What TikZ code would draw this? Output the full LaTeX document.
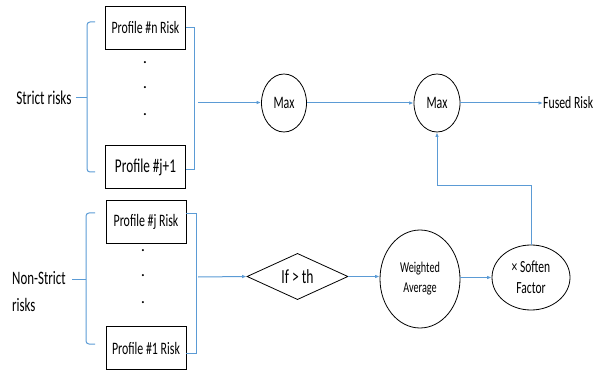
\documentclass[tikz,border=0pt]{standalone}
\usepackage{fontspec}
\usepackage{graphicx}
\setmainfont{Carlito}
\usetikzlibrary{shapes.geometric,arrows.meta,calc}
\definecolor{lblue}{RGB}{91,155,213}
\newcommand{\sqz}[2]{{\fontsize{#1}{#1}\selectfont\scalebox{0.68}[1]{#2}}}
\begin{document}
\begin{tikzpicture}[x=1pt,y=-1pt,
  box/.style={draw,line width=0.8pt,minimum width=80pt,minimum height=43pt,inner sep=0pt},
  ell/.style={draw,ellipse,line width=0.8pt,inner sep=0pt,align=center},
  conn/.style={draw=lblue,line width=1pt},
  arr/.style={conn,-{Latex[length=4.5pt,width=3.5pt]}},
  dotn/.style={inner sep=0pt,font=\fontsize{17}{17}\selectfont},
  lbl/.style={inner sep=0pt}]
\useasboundingbox (0,0) rectangle (596,371);
% boxes
\node[box] (p1) at (145.5,28) {\sqz{17.4}{Profile \#n Risk}};
\node[box] (p2) at (145.5,167) {\sqz{19.5}{Profile \#j+1}};
\node[box] (p3) at (146,221.5) {\sqz{17.5}{Profile \#j Risk}};
\node[box] (p4) at (146,348) {\sqz{17.5}{Profile \#1 Risk}};
% dots
\node[dotn] (d1) at (145,63) {.};
\node[dotn] (d2) at (145,88) {.};
\node[dotn] (d3) at (145,115) {.};
\node[dotn] (d4) at (143,251) {.};
\node[dotn] (d5) at (143,276) {.};
\node[dotn] (d6) at (143,303) {.};
% labels
\node[lbl] (sl) at (44,98) {\sqz{19.5}{Strict risks}};
\node[lbl,anchor=west,align=left,font=\fontsize{12}{27}\selectfont] (nl) at (12,292) {\sqz{19}{Non-Strict}\\\sqz{19}{risks}};
% braces
\coordinate (bt1) at (95,22);
\coordinate (bb1) at (95,172);
\coordinate (bm1) at (87,98);
\coordinate (bs1) at (76,98);
\draw[conn,rounded corners=3pt] (bt1) -- (87,22) -- (87,172) -- (bb1);
\draw[conn] (bm1) -- (bs1);
\coordinate (bt2) at (95,213);
\coordinate (bb2) at (95,344);
\coordinate (bm2) at (86,279);
\coordinate (bs2) at (72,279);
\draw[conn,rounded corners=3pt] (bt2) -- (86,213) -- (86,344) -- (bb2);
\draw[conn] (bm2) -- (bs2);
% right brackets
\draw[conn] (p1.east) -- ++(9,0) |- ($(p2.east)+(0,3)$);
\draw[conn] ($(p3.east)+(0,-7.5)$) -- ++(10,0) |- ($(p4.east)+(0,5)$);
% operators
\node[ell,minimum width=45pt,minimum height=58pt] (m1) at (284,103) {\sqz{17.5}{Max}};
\node[ell,minimum width=46pt,minimum height=58pt] (m2) at (437,103) {\sqz{17.5}{Max}};
\node[lbl,anchor=west] (fr) at (543,103) {\sqz{17.3}{Fused Risk}};
\node[draw,diamond,line width=0.8pt,minimum width=101pt,minimum height=45pt,inner sep=0pt] (th) at (297.5,276.5) {\sqz{20}{If > th}};
\node[ell,minimum width=80pt,minimum height=98pt,font=\fontsize{12}{20}\selectfont] (wa) at (420,279) {\sqz{15}{Weighted}\\\sqz{15}{Average}};
\node[ell,minimum width=78pt,minimum height=65pt,font=\fontsize{12}{21}\selectfont] (sf) at (531,277.5) {\sqz{17}{× Soften}\\\sqz{17}{Factor}};
% arrows
\coordinate (s1) at (198,102.5);
\coordinate (s2) at (198,277);
\coordinate (k) at (437,186);
\draw[arr] (s1) -- (s1 -| m1.west);
\draw[arr] (s2) -- (th.west);
\draw[arr] (m1.east) -- (m2.west);
\draw[arr] (m2.east) -- (fr.west);
\draw[arr] (th.east) -- (th.east -| wa.west);
\draw[arr] (wa.east |- sf.west) -- (sf.west);
\draw[arr] (sf.north) |- (k) -- (m2.south);
\end{tikzpicture}
\end{document}
